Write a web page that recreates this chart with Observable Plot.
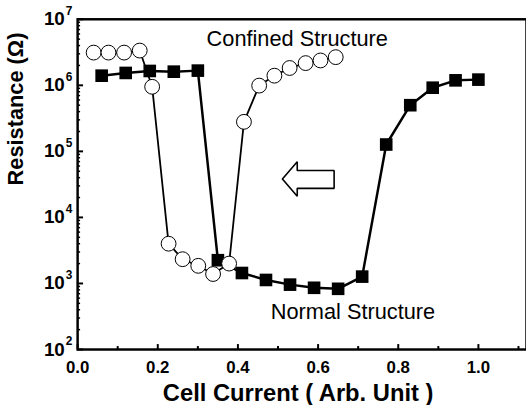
<!DOCTYPE html>
<html>
<head>
<meta charset="utf-8">
<script src="https://cdn.jsdelivr.net/npm/d3@7"></script>
<script src="https://cdn.jsdelivr.net/npm/@observablehq/plot@0.6"></script>
<style>
  html, body { margin: 0; padding: 0; background: #fff; overflow: hidden; }
  #wrap { width: 526px; height: 410px; overflow: hidden; }
</style>
</head>
<body>
<div id="wrap"></div>
<script>
// Normal structure (filled squares)
const normalX = [0.06, 0.12, 0.18, 0.24, 0.30, 0.35, 0.41, 0.47, 0.53, 0.59, 0.65, 0.71, 0.77, 0.83, 0.886, 0.943, 1.0];
const normalR = [1.4e6, 1.54e6, 1.65e6, 1.61e6, 1.67e6, 2250, 1440, 1130, 960, 860, 830, 1270, 1.27e5, 5.0e5, 9.2e5, 1.19e6, 1.22e6];
// Confined structure (open circles)
const confX = [0.040, 0.077, 0.116, 0.155, 0.186, 0.227, 0.262, 0.301, 0.338, 0.378, 0.415, 0.453, 0.491, 0.529, 0.569, 0.606, 0.644];
const confR = [3.13e6, 3.13e6, 3.13e6, 3.36e6, 9.5e5, 4000, 2330, 1850, 1390, 2000, 2.8e5, 9.9e5, 1.4e6, 1.83e6, 2.17e6, 2.38e6, 2.67e6];
// axes
const xTicks = [0, 0.2, 0.4, 0.6, 0.8, 1.0];
const xMinor = [0.1, 0.3, 0.5, 0.7, 0.9, 1.1];
const yExps = [2, 3, 4, 5, 6, 7];
const yMinor = [2,3,4,5,6].flatMap(e => [2,3,4,5,6,7,8,9].map(m => m * 10 ** e));
// annotations
const labels = [
  {x: 0.548, y: 5.0e6, text: "Confined Structure"},
  {x: 0.687, y: 371, text: "Normal Structure"}
];
// hollow arrow outline (data space)
const arrow = [
  {x: 0.511, y: 10 ** 4.582}, {x: 0.548, y: 10 ** 4.844}, {x: 0.548, y: 10 ** 4.71},
  {x: 0.640, y: 10 ** 4.71}, {x: 0.640, y: 10 ** 4.44}, {x: 0.548, y: 10 ** 4.44},
  {x: 0.548, y: 10 ** 4.32}, {x: 0.511, y: 10 ** 4.582}
];

const normal = normalX.map((x, i) => ({x, y: normalR[i]}));
const conf = confX.map((x, i) => ({x, y: confR[i]}));
const font = "'Liberation Sans', Arial, Helvetica, sans-serif";

const chart = Plot.plot({
  width: 532, height: 410,
  marginLeft: 78, marginRight: 0, marginTop: 19, marginBottom: 57,
  style: {fontFamily: font, fontWeight: "bold", color: "#000", background: "#fff"},
  x: {domain: [0, 1.12]},
  y: {type: "log", domain: [1e2, 1e7]},
  marks: [
    Plot.frame({stroke: "#000", strokeWidth: 2.5}),
    // x ticks
    Plot.axisX({ticks: xTicks, tickSize: -5, tickFormat: () => "", label: null, strokeWidth: 2}),
    Plot.axisX({ticks: xMinor.filter(d => d < 1.12), tickSize: -3, tickFormat: () => "", label: null, strokeWidth: 2}),
    Plot.axisX({ticks: xTicks, tickSize: 0, tickPadding: 12, tickFormat: d3.format(".1f"), label: null, fontSize: 17, fontWeight: "bold"}),
    // y ticks
    Plot.axisY({ticks: yExps.map(e => 10 ** e), tickSize: -6, tickFormat: () => "", label: null, strokeWidth: 2}),
    Plot.axisY({ticks: yMinor, tickSize: -3, tickFormat: () => "", label: null, strokeWidth: 1.5}),
    Plot.text(yExps, {x: 0, y: e => 10 ** e, text: () => "10", textAnchor: "end", dx: -13, fontSize: 19, fontWeight: "bold", clip: false}),
    Plot.text(yExps, {x: 0, y: e => 10 ** e, text: e => String(e), textAnchor: "start", dx: -12, dy: -8, fontSize: 12, fontWeight: "bold", clip: false}),
    // axis titles
    Plot.text(["Cell Current ( Arb. Unit )"], {frameAnchor: "bottom", lineAnchor: "middle", dx: -4, dy: 44, fontSize: 24, fontWeight: "bold"}),
    Plot.text(["Resistance (\u03A9)"], {frameAnchor: "left", rotate: -90, dx: -62, dy: 1, fontSize: 22, fontWeight: "bold"}),
    // normal structure
    Plot.line(normal, {x: "x", y: "y", stroke: "#000", strokeWidth: 2.5}),
    Plot.dot(normal, {x: "x", y: "y", symbol: "square", r: 7.2, fill: "#000", stroke: "none"}),
    // confined structure
    Plot.line(conf, {x: "x", y: "y", stroke: "#000", strokeWidth: 1.8}),
    Plot.dot(conf, {x: "x", y: "y", symbol: "circle", r: 7.5, fill: "#fff", stroke: "#000", strokeWidth: 1}),
    // annotations
    Plot.text(labels, {x: "x", y: "y", text: "text", fontSize: 22, fontWeight: "normal"}),
    Plot.line(arrow, {x: "x", y: "y", stroke: "#000", strokeWidth: 1.6, strokeLinejoin: "miter"})
  ]
});
document.getElementById("wrap").appendChild(chart);
</script>
</body>
</html>
